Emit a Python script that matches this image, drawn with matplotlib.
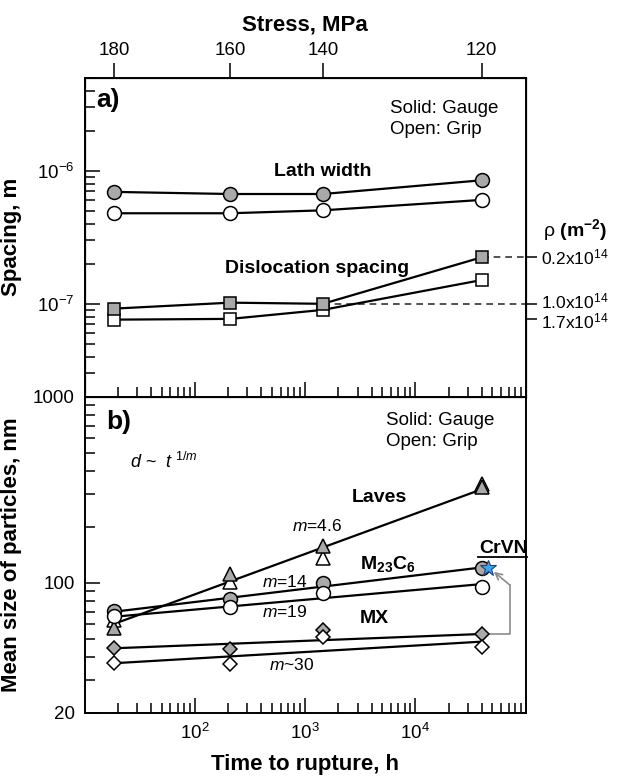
import numpy as np
import matplotlib
matplotlib.use('Agg')
import matplotlib.pyplot as plt
import matplotlib.transforms as mtransforms
from matplotlib.ticker import FixedLocator, FixedFormatter, LogLocator, NullLocator, NullFormatter

plt.rcParams['font.family'] = ['Liberation Sans', 'DejaVu Sans']
plt.rcParams['mathtext.fontset'] = 'custom'
plt.rcParams['mathtext.rm'] = 'Liberation Sans'
plt.rcParams['mathtext.it'] = 'Liberation Sans:italic'
plt.rcParams['mathtext.bf'] = 'Liberation Sans:bold'

# ---------------- data ----------------
stress_labels = ['180', '160', '140', '120']
rupture_time = [18.5, 210, 1450, 40000]

lath_gauge = [6.95e-7, 6.7e-7, 6.7e-7, 8.5e-7]
lath_grip = [4.8e-7, 4.8e-7, 5.05e-7, 6.05e-7]
disl_gauge = [9.2e-8, 1.02e-7, 1.0e-7, 2.24e-7]
disl_grip = [7.6e-8, 7.7e-8, 9.0e-8, 1.51e-7]

rho_values = [0.2e14, 1.0e14, 1.7e14]
rho_labels = ['0.2x10$^{14}$', '1.0x10$^{14}$', '1.7x10$^{14}$']
rho_label_shift_px = [0, 2.5, -2.5]

laves_gauge = [57, 112, 157, 325]
laves_grip = [63, 101, 135, 340]
m23_gauge = [70.7, 81.7, 100, 119.5]
m23_grip = [66, 73.7, 88.4, 95.2]
mx_gauge = [44.8, 44, 55.7, 53]
mx_grip = [36.9, 36.6, 51, 45.3]

fit_time = [18.5, 40000]
laves_fit = [60, 318]
m23_gauge_fit = [69.8, 120.8]
m23_grip_fit = [65.6, 98.3]
mx_gauge_fit = [44.4, 53]
mx_grip_fit = [36.9, 48.2]

crvn_time = [45500]
crvn_size = [119.5]

arrow_time = [47000, 72000, 72000]
arrow_size = [53, 53, 97]
arrow_tip_time = 51500
arrow_tip_size = 114.5

x_major = [1e2, 1e3, 1e4]
b_y_ticks = [20, 100, 1000]
b_y_labels = ['20', '100', '1000']

# ---------------- figure ----------------
gray = '#a9a9a9'
fig = plt.figure(figsize=(6.17, 7.8), dpi=100)
L = 84.5 / 617
W = (525.7 - 84.5) / 617
ax_a = fig.add_axes([L, 1 - 396.7 / 780, W, 318.7 / 780])
ax_b = fig.add_axes([L, 1 - 712.7 / 780, W, 316.0 / 780])

for ax in (ax_a, ax_b):
    ax.set_xscale('log')
    ax.set_yscale('log')
    ax.set_xlim(10, 1e5)
    for s in ax.spines.values():
        s.set_linewidth(1.4)

# ---- panel a ----
ax_a.set_ylim(2e-8, 5e-6)
mk = dict(color='k', lw=1.6, mec='k', mew=1.1)
ax_a.plot(rupture_time, lath_gauge, marker='o', ms=10, mfc=gray, **mk, zorder=3)
ax_a.plot(rupture_time, lath_grip, marker='o', ms=10, mfc='white', **mk, zorder=3)
ax_a.plot(rupture_time, disl_grip, marker='s', ms=8, mfc='white', **mk, zorder=3)
ax_a.plot(rupture_time, disl_gauge, marker='s', ms=8, mfc=gray, **mk, zorder=3)

dash = dict(color='#333333', lw=1.2, ls=(0, (4, 3)), clip_on=False, zorder=2)
ax_a.plot([rupture_time[3], 1e5], [disl_gauge[3], disl_gauge[3]], **dash)
ax_a.plot([rupture_time[2], 1e5], [disl_gauge[2], disl_gauge[2]], **dash)

ax_a.xaxis.set_major_locator(FixedLocator(x_major))
ax_a.xaxis.set_minor_locator(LogLocator(base=10, subs=np.arange(2, 10)))
ax_a.xaxis.set_minor_formatter(NullFormatter())
ax_a.yaxis.set_minor_locator(LogLocator(base=10, subs=np.arange(2, 10)))
ax_a.yaxis.set_minor_formatter(NullFormatter())
ax_a.tick_params(which='major', direction='in', length=11, width=1.1, labelsize=13.5, pad=7)
ax_a.tick_params(which='minor', direction='in', length=7, width=1.1)
ax_a.tick_params(axis='x', labelbottom=False, top=False, which='both')
ax_a.tick_params(axis='y', right=False, which='both')
ax_a.set_ylabel('Spacing, m', fontsize=16, fontweight='bold')
ax_a.yaxis.set_label_coords(-0.142, 0.5)

ax_t = ax_a.twiny()
ax_t.set_xscale('log')
ax_t.set_xlim(10, 1e5)
ax_t.xaxis.set_major_locator(FixedLocator(rupture_time))
ax_t.xaxis.set_major_formatter(FixedFormatter(stress_labels))
ax_t.xaxis.set_minor_locator(NullLocator())
ax_t.tick_params(axis='x', direction='out', length=11, width=1.1, labelsize=13.5, pad=3)
ax_t.set_xlabel('Stress, MPa', fontsize=16, fontweight='bold', labelpad=8)

ax_r = ax_a.twinx()
ax_r.set_yscale('log')
ax_r.set_ylim(2e-8, 5e-6)
rho_pos = [1.0 / np.sqrt(r) for r in rho_values]
ax_r.yaxis.set_major_locator(FixedLocator(rho_pos))
ax_r.yaxis.set_major_formatter(NullFormatter())
ax_r.yaxis.set_minor_locator(NullLocator())
ax_r.tick_params(axis='y', direction='out', length=8, width=1.1)
ytr = ax_r.get_yaxis_transform()
for pos, lab, dy in zip(rho_pos, rho_labels, rho_label_shift_px):
    tr = mtransforms.offset_copy(ytr, fig=fig, x=0, y=dy, units='dots')
    ax_r.text(1.0347, pos, lab, transform=tr, fontsize=12.5, va='center', ha='left', clip_on=False)

ta = ax_a.transAxes
ax_a.text(0.0277, 0.931, 'a)', transform=ta, fontsize=19, fontweight='bold', va='center', ha='left')
ax_a.text(0.692, 0.905, 'Solid: Gauge', transform=ta, fontsize=13.5, va='center', ha='left')
ax_a.text(0.692, 0.837, 'Open: Grip', transform=ta, fontsize=13.5, va='center', ha='left')
ax_a.text(0.541, 0.706, 'Lath width', transform=ta, fontsize=14, fontweight='bold', va='center', ha='center')
ax_a.text(0.526, 0.403, 'Dislocation spacing', transform=ta, fontsize=14, fontweight='bold', va='center', ha='center')
ax_a.text(1.112, 0.523, r'ρ $\mathbf{(m^{-2})}$', transform=ta, fontsize=14, va='center', ha='center')

# ---- panel b ----
ax_b.set_ylim(20, 1000)
ln = dict(color='k', lw=1.6, zorder=2)
ax_b.plot(fit_time, laves_fit, **ln)
ax_b.plot(fit_time, m23_gauge_fit, **ln)
ax_b.plot(fit_time, m23_grip_fit, **ln)
ax_b.plot(fit_time, mx_gauge_fit, **ln)
ax_b.plot(fit_time, mx_grip_fit, **ln)

pk = dict(ls='none', mec='k', mew=1.1, zorder=3)
ax_b.plot(rupture_time, laves_grip, marker='^', ms=10, mfc='white', **pk)
ax_b.plot(rupture_time, laves_gauge, marker='^', ms=10, mfc=gray, **pk)
ax_b.plot(rupture_time, m23_gauge, marker='o', ms=10, mfc=gray, **pk)
ax_b.plot(rupture_time, m23_grip, marker='o', ms=10, mfc='white', **pk)
ax_b.plot(rupture_time, mx_gauge, marker='D', ms=7.2, mfc=gray, **pk)
ax_b.plot(rupture_time, mx_grip, marker='D', ms=7.2, mfc='white', **pk)

ax_b.plot(arrow_time, arrow_size, color='#8c8c8c', lw=1.2, zorder=2.5, clip_on=False)
ax_b.annotate('', xy=(arrow_tip_time, arrow_tip_size), xytext=(arrow_time[-1], arrow_size[-1]),
              arrowprops=dict(arrowstyle='->', color='#8c8c8c', lw=1.2,
                              shrinkA=0, shrinkB=0, mutation_scale=12), zorder=2.5)
ax_b.plot(crvn_time, crvn_size, ls='none', marker='*', ms=12, mfc='#3fa4ec', mec='#1d3f72', mew=0.8, zorder=4)

ax_b.xaxis.set_major_locator(FixedLocator(x_major))
ax_b.xaxis.set_minor_locator(LogLocator(base=10, subs=np.arange(2, 10)))
ax_b.xaxis.set_minor_formatter(NullFormatter())
ax_b.yaxis.set_major_locator(FixedLocator(b_y_ticks))
ax_b.yaxis.set_major_formatter(FixedFormatter(b_y_labels))
ax_b.yaxis.set_minor_locator(LogLocator(base=10, subs=np.arange(2, 10)))
ax_b.yaxis.set_minor_formatter(NullFormatter())
ax_b.tick_params(which='major', direction='in', length=11, width=1.1, labelsize=13.5, pad=7)
ax_b.tick_params(which='minor', direction='in', length=7, width=1.1)
ax_b.tick_params(axis='both', which='both', top=False, right=False)
ax_b.set_xlabel('Time to rupture, h', fontsize=16, fontweight='bold', labelpad=8)
ax_b.set_ylabel('Mean size of particles, nm', fontsize=16, fontweight='bold')
ax_b.yaxis.set_label_coords(-0.142, 0.5)

tb = ax_b.transAxes
ax_b.text(0.0487, 0.921, 'b)', transform=tb, fontsize=19, fontweight='bold', va='center', ha='left')
ax_b.text(0.683, 0.926, 'Solid: Gauge', transform=tb, fontsize=13.5, va='center', ha='left')
ax_b.text(0.683, 0.858, 'Open: Grip', transform=tb, fontsize=13.5, va='center', ha='left')
ax_b.text(0.103, 0.794, r'$d$ ~  $t^{\ 1/m}$', transform=tb, fontsize=13, va='center', ha='left')
ax_b.text(0.668, 0.682, 'Laves', transform=tb, fontsize=14, fontweight='bold', va='center', ha='center')
ax_b.text(0.527, 0.591, r'$m$=4.6', transform=tb, fontsize=12.5, va='center', ha='center')
ax_b.text(0.624, 0.471, r'$\mathbf{M_{23}C_{6}}$', transform=tb, fontsize=14, va='center', ha='left')
ax_b.text(0.454, 0.415, r'$m$=14', transform=tb, fontsize=12.5, va='center', ha='center')
ax_b.text(0.454, 0.320, r'$m$=19', transform=tb, fontsize=12.5, va='center', ha='center')
ax_b.text(0.624, 0.297, 'MX', transform=tb, fontsize=14, fontweight='bold', va='center', ha='left')
ax_b.text(0.469, 0.151, r'$m$~30', transform=tb, fontsize=12.5, va='center', ha='center')
ax_b.text(0.949, 0.520, 'CrVN', transform=tb, fontsize=14, fontweight='bold', va='center', ha='center')
ax_b.plot([0.892, 1.004], [0.494, 0.494], transform=tb, color='k', lw=1.3, clip_on=False)

fig.savefig('out.png', dpi=100)
